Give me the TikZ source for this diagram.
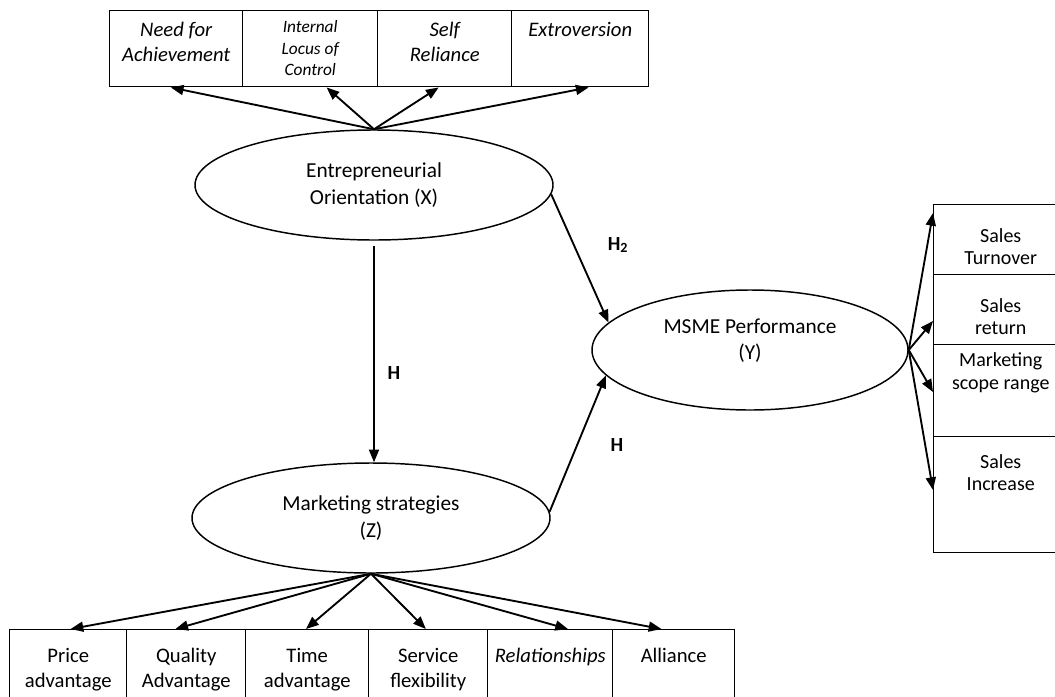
\documentclass[tikz,border=0pt]{standalone}
\usepackage{fontspec}
\setmainfont{Carlito}
\usetikzlibrary{arrows.meta,shapes.geometric,calc}
\newcommand\celltxt[4]{\parbox[c][#1][t]{#2}{\centering\rule{0pt}{#3}#4\par}}
\begin{document}
\begin{tikzpicture}[x=0.75pt,y=-0.75pt,
  ell/.style={ellipse, draw, line width=1.1pt, inner sep=0pt, align=center, font=\fontsize{16}{20}\selectfont},
  cell/.style={draw, line width=1.1pt, inner sep=0pt, anchor=north west},
  topfont/.style={font=\itshape\fontsize{15.5}{19}\selectfont},
  smallfont/.style={font=\itshape\fontsize{13}{16}\selectfont},
  rightfont/.style={font=\fontsize{15}{17}\selectfont},
  botfont/.style={font=\fontsize{15.5}{18.75}\selectfont},
  lab/.style={font=\bfseries\fontsize{15}{18}\selectfont},
  arr/.style={line width=1.4pt, -{Triangle[length=9.5pt,width=7.5pt]}}]
\useasboundingbox (0,0) rectangle (1055,696);
\clip (0,0) rectangle (1055,696);

% ellipses
\node[ell, minimum width=268.5pt, minimum height=82.5pt] (eo) at (374,185) {Entrepreneurial\\Orientation (X)};
\node[ell, minimum width=268.5pt, minimum height=82.5pt] (ms) at (371,518) {Marketing strategies\\(Z)};
\node[ell, minimum width=237pt, minimum height=90pt] (pf) at (750,350) {MSME Performance\\(Y)\\[-4pt]};

% top boxes
\node[cell, topfont] (nfa) at (109,10) {\celltxt{57pt}{99.75pt}{19pt}{Need for\\Achievement}};
\node[cell, smallfont] (ilc) at (242,10) {\celltxt{57pt}{101.25pt}{16.5pt}{Internal\\Locus of\\Control}};
\node[cell, topfont] (sr) at (377,10) {\celltxt{57pt}{100.5pt}{19pt}{Self\\Reliance}};
\node[cell, topfont] (ex) at (511,10) {\celltxt{57pt}{102.75pt}{19pt}{Extroversion}};

% right boxes
\node[cell, rightfont] (st) at (933,204) {\celltxt{52.5pt}{100.5pt}{28pt}{Sales\\Turnover}};
\node[cell, rightfont] (sre) at (933,274) {\celltxt{52.5pt}{100.5pt}{28pt}{Sales\\return}};
\node[cell, rightfont] (msr) at (933,344) {\celltxt{69pt}{100.5pt}{16.5pt}{Marketing\\scope range}};
\node[cell, rightfont] (si) at (933,436) {\celltxt{87pt}{100.5pt}{23.6pt}{Sales\\Increase}};

% bottom boxes
\node[cell, botfont] (pa) at (9,629) {\celltxt{58.5pt}{87.75pt}{24.4pt}{Price\\advantage}};
\node[cell, botfont] (qa) at (126,629) {\celltxt{58.5pt}{89.25pt}{24.4pt}{Quality\\Advantage}};
\node[cell, botfont] (ta) at (245,629) {\celltxt{58.5pt}{92.25pt}{24.4pt}{Time\\advantage}};
\node[cell, botfont] (sf) at (368,629) {\celltxt{58.5pt}{89.25pt}{24.4pt}{Service\\flexibility}};
\node[cell, botfont] (re) at (487,629) {\celltxt{58.5pt}{93.75pt}{24.4pt}{\itshape Relationships}};
\node[cell, botfont] (al) at (612,629) {\celltxt{58.5pt}{91.5pt}{24.4pt}{Alliance}};

% labels
\node[lab] (h1) at (394,373) {H};
\node[lab] (h2) at (618,245) {H\textsubscript{2}};
\node[lab] (h3) at (617,445) {H};

% top arrows
\draw[arr] (eo.north) -- ($(nfa.south west)!0.46!(nfa.south east)$);
\draw[arr] (eo.north) -- ($(ilc.south west)!0.62!(ilc.south east)$);
\draw[arr] (eo.north) -- ($(sr.south west)!0.455!(sr.south east)$);
\draw[arr] (eo.north) -- ($(ex.south west)!0.56!(ex.south east)$);

% bottom arrows
\draw[arr] (ms.south) -- ($(pa.north west)!0.52!(pa.north east)$);
\draw[arr] (ms.south) -- ($(qa.north west)!0.41!(qa.north east)$);
\draw[arr] (ms.south) -- ($(ta.north west)!0.49!(ta.north east)$);
\draw[arr] (ms.south) -- ($(sf.north west)!0.48!(sf.north east)$);
\draw[arr] (ms.south) -- ($(re.north west)!0.64!(re.north east)$);
\draw[arr] (ms.south) -- ($(al.north west)!0.40!(al.north east)$);

% right arrows
\draw[arr] (pf.east) -- ($(st.north west)+(0,9)$);
\draw[arr] (pf.east) -- ($(sre.north west)+(0,47)$);
\draw[arr] (pf.east) -- ($(msr.north west)+(0,48)$);
\draw[arr] (pf.east) -- ($(si.north west)+(0,54)$);

% hypothesis arrows
\draw[arr, shorten <=4pt] (eo.south) -- (eo.south |- ms.north);
\draw[arr] (eo.-3) -- (pf.169);
\draw[arr] (ms.2) -- (pf.190);
\end{tikzpicture}
\end{document}
